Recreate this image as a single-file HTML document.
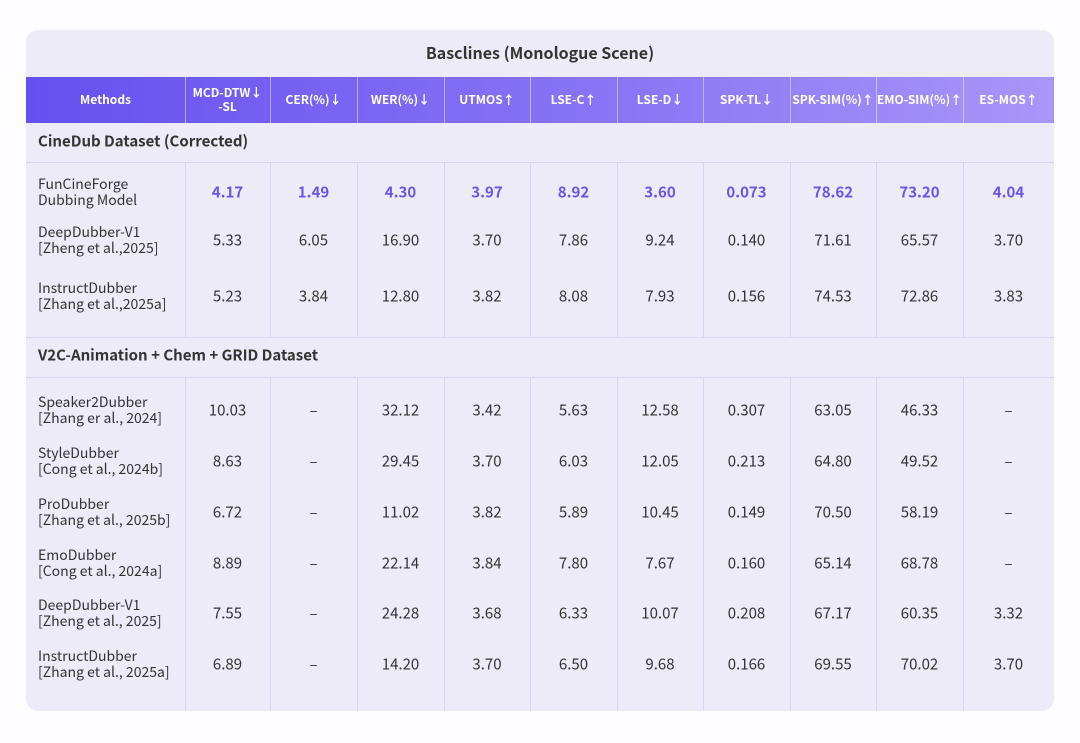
<!DOCTYPE html>
<html><head><meta charset="utf-8"><style>
body{margin:0;width:1080px;height:743px;background:#fdfdff;font-family:"Noto Sans CJK SC","Liberation Sans",sans-serif;position:relative;overflow:hidden}
.card{position:absolute;left:26px;top:30px;width:1028px;height:681px;background:#ecebf7;border-radius:12px;overflow:hidden}
.hdr{position:absolute;left:0;top:47px;width:1028px;height:46px;background:linear-gradient(90deg,#6650f0,#8b77f5 60%,#a896f8)}
.t{position:absolute;transform:translate(-50%,-50%);white-space:nowrap;text-align:center}
.h{color:#fff;font-weight:bold;font-size:12px;line-height:14px}
.d{color:#333;font-size:15px}
.b{color:#6a55e6;font-weight:bold;font-size:15px}
.m{position:absolute;left:12px;transform:translateY(-50%);color:#333;font-size:14px;line-height:16px}
.s{position:absolute;left:12px;transform:translateY(-50%);color:#333;font-weight:bold;font-size:15px}
.vl{position:absolute;width:1px;background:#d9d6f2}
.hl{position:absolute;left:0;width:1028px;height:1px;background:#d9d6f2}
.wv{position:absolute;top:47px;height:46px;width:1px;background:rgba(255,255,255,.45)}
</style></head><body>
<div class="card" id="c">
<div class="t" style="left:514px;top:22px;font-weight:bold;font-size:16px;color:#333">Basclines (Monologue Scene)</div>
<div class="hdr"></div>
<div class="hl" style="top:132px"></div><div class="hl" style="top:307px"></div><div class="hl" style="top:347px"></div>
<div class="s" style="top:111px">CineDub Dataset (Corrected)</div>
<div class="s" style="top:325px">V2C-Animation + Chem + GRID Dataset</div>
</div>
<script>
var c=document.getElementById('c');
var xs=[0,159,244,331,418,504,591,677,764,850,937,1028];
var heads=['Methods','MCD-DTW↓<br>-SL','CER(%)↓','WER(%)↓','UTMOS↑','LSE-C↑','LSE-D↓','SPK-TL↓','SPK-SIM(%)↑','EMO-SIM(%)↑','ES-MOS↑'];
var h='';
for(var i=1;i<11;i++){h+='<div class="wv" style="left:'+xs[i]+'px"></div>';
 h+='<div class="vl" style="left:'+xs[i]+'px;top:133px;height:174px"></div>';
 h+='<div class="vl" style="left:'+xs[i]+'px;top:348px;height:333px"></div>';}
for(var i=0;i<11;i++)h+='<div class="t h" style="left:'+(xs[i]+xs[i+1])/2+'px;top:70px">'+heads[i]+'</div>';
var rows=[
[162,'FunCineForge<br>Dubbing Model',['4.17','1.49','4.30','3.97','8.92','3.60','0.073','78.62','73.20','4.04'],1],
[210,'DeepDubber-V1<br>[Zheng et al.,2025]',['5.33','6.05','16.90','3.70','7.86','9.24','0.140','71.61','65.57','3.70']],
[266,'InstructDubber<br>[Zhang et al.,2025a]',['5.23','3.84','12.80','3.82','8.08','7.93','0.156','74.53','72.86','3.83']],
[380,'Speaker2Dubber<br>[Zhang er al., 2024]',['10.03','–','32.12','3.42','5.63','12.58','0.307','63.05','46.33','–']],
[431,'StyleDubber<br>[Cong et al., 2024b]',['8.63','–','29.45','3.70','6.03','12.05','0.213','64.80','49.52','–']],
[482,'ProDubber<br>[Zhang et al., 2025b]',['6.72','–','11.02','3.82','5.89','10.45','0.149','70.50','58.19','–']],
[533,'EmoDubber<br>[Cong et al., 2024a]',['8.89','–','22.14','3.84','7.80','7.67','0.160','65.14','68.78','–']],
[583,'DeepDubber-V1<br>[Zheng et al., 2025]',['7.55','–','24.28','3.68','6.33','10.07','0.208','67.17','60.35','3.32']],
[634,'InstructDubber<br>[Zhang et al., 2025a]',['6.89','–','14.20','3.70','6.50','9.68','0.166','69.55','70.02','3.70']]];
rows.forEach(function(r){h+='<div class="m" style="top:'+r[0]+'px">'+r[1]+'</div>';
 r[2].forEach(function(v,j){h+='<div class="t '+(r[3]?'b':'d')+'" style="left:'+(xs[j+1]+xs[j+2])/2+'px;top:'+r[0]+'px">'+v+'</div>';});});
c.insertAdjacentHTML('beforeend',h);
</script>
</body></html>
